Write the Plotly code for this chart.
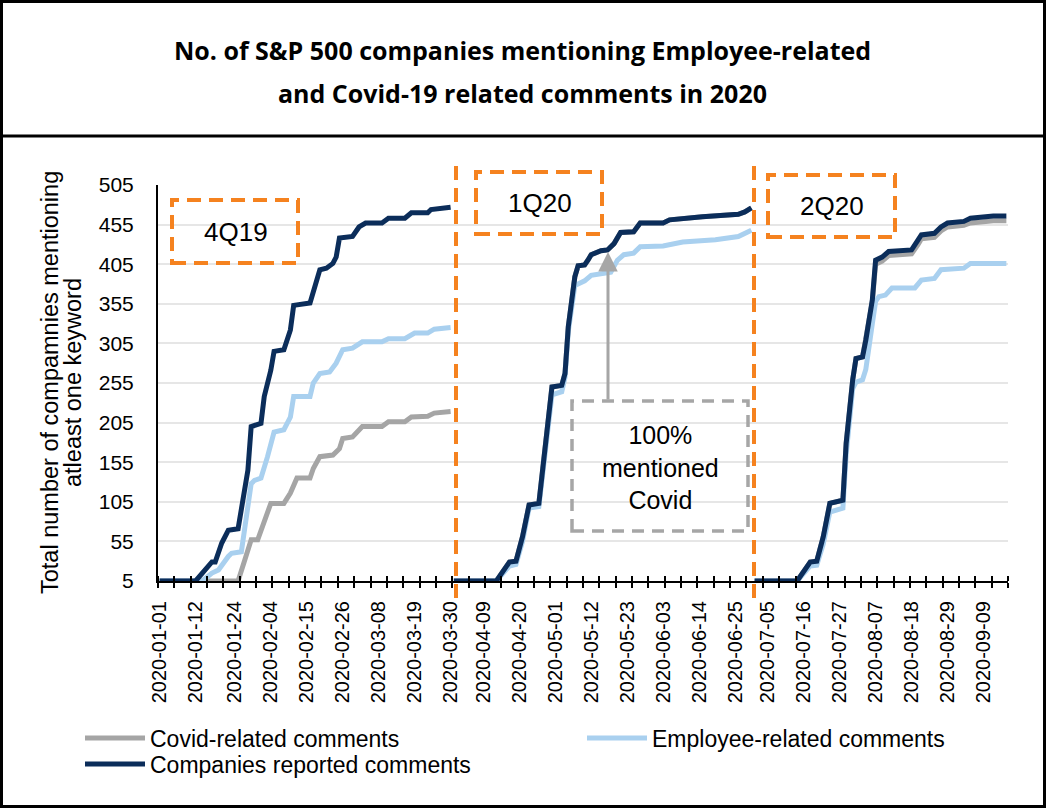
import plotly.graph_objects as go

# ---------------- data ----------------
# 4Q19 reporting season (Q1 2020)
q1_dates_companies = ["2020-01-01", "2020-01-12", "2020-01-17", "2020-01-18", "2020-01-20", "2020-01-22",
                      "2020-01-25", "2020-01-26", "2020-01-28", "2020-01-29", "2020-02-01", "2020-02-02",
                      "2020-02-04", "2020-02-05", "2020-02-08", "2020-02-10", "2020-02-11", "2020-02-16",
                      "2020-02-17", "2020-02-19", "2020-02-21", "2020-02-23", "2020-02-24", "2020-02-25",
                      "2020-02-29", "2020-03-02", "2020-03-04", "2020-03-09", "2020-03-11", "2020-03-16",
                      "2020-03-18", "2020-03-23", "2020-03-24", "2020-03-30"]
q1_companies = [5, 5, 29, 29, 53, 69, 71, 94, 145, 200, 204, 238, 271, 295, 297, 322, 353, 356,
                372, 398, 400, 406, 414, 438, 440, 452, 457, 457, 463, 463, 470, 470, 474, 477]

q1_dates_employee = ["2020-01-01", "2020-01-14", "2020-01-17", "2020-01-19", "2020-01-22", "2020-01-23",
                     "2020-01-26", "2020-01-27", "2020-01-29", "2020-01-30", "2020-02-01", "2020-02-03",
                     "2020-02-05", "2020-02-08", "2020-02-10", "2020-02-11", "2020-02-16", "2020-02-17",
                     "2020-02-19", "2020-02-22", "2020-02-24", "2020-02-26", "2020-02-29", "2020-03-03",
                     "2020-03-09", "2020-03-11", "2020-03-16", "2020-03-19", "2020-03-23", "2020-03-25",
                     "2020-03-30"]
q1_employee = [5, 5, 15, 19, 36, 40, 42, 69, 128, 132, 135, 162, 193, 196, 212, 238, 238, 255,
               267, 269, 280, 297, 299, 307, 307, 311, 311, 318, 318, 323, 325]

q1_dates_covid = ["2020-01-01", "2020-01-25", "2020-01-27", "2020-01-29", "2020-01-31", "2020-02-02",
                  "2020-02-04", "2020-02-08", "2020-02-10", "2020-02-12", "2020-02-16", "2020-02-17",
                  "2020-02-19", "2020-02-23", "2020-02-25", "2020-02-26", "2020-02-29", "2020-03-03",
                  "2020-03-09", "2020-03-11", "2020-03-16", "2020-03-18", "2020-03-23", "2020-03-25",
                  "2020-03-30"]
q1_covid = [5, 5, 31, 57, 57, 78, 103, 103, 116, 135, 135, 147, 162, 164, 172, 185, 187, 200,
            200, 206, 206, 212, 213, 217, 219]

# 1Q20 reporting season (Q2 2020)
q2_dates_companies = ["2020-03-31", "2020-04-13", "2020-04-17", "2020-04-19", "2020-04-21", "2020-04-23",
                      "2020-04-26", "2020-04-28", "2020-04-30", "2020-05-03", "2020-05-04", "2020-05-05",
                      "2020-05-07", "2020-05-08", "2020-05-10", "2020-05-11", "2020-05-12", "2020-05-15",
                      "2020-05-17", "2020-05-19", "2020-05-21", "2020-05-25", "2020-05-27", "2020-06-03",
                      "2020-06-05", "2020-06-15", "2020-06-26", "2020-06-28", "2020-06-30"]
q2_companies = [5, 5, 29, 30, 61, 101, 103, 175, 250, 252, 267, 326, 389, 403, 404, 410, 417, 422,
                423, 431, 445, 446, 457, 457, 461, 465, 468, 471, 476]

q2_dates_employee = ["2020-03-31", "2020-04-13", "2020-04-17", "2020-04-19", "2020-04-21", "2020-04-23",
                     "2020-04-26", "2020-04-28", "2020-04-30", "2020-05-03", "2020-05-04", "2020-05-05",
                     "2020-05-07", "2020-05-10", "2020-05-12", "2020-05-18", "2020-05-20", "2020-05-22",
                     "2020-05-25", "2020-05-27", "2020-06-03", "2020-06-09", "2020-06-19", "2020-06-26",
                     "2020-06-30"]
q2_employee = [5, 5, 24, 26, 55, 97, 99, 165, 240, 244, 262, 320, 378, 384, 391, 395, 410, 417,
               419, 427, 428, 433, 436, 440, 448]

# 100% of reporting companies mentioned Covid in this season
q2_dates_covid = q2_dates_companies
q2_covid = q2_companies

# 2Q20 reporting season (Q3 2020)
q3_dates_companies = ["2020-07-01", "2020-07-14", "2020-07-18", "2020-07-20", "2020-07-22", "2020-07-24",
                      "2020-07-28", "2020-07-29", "2020-07-31", "2020-08-01", "2020-08-03", "2020-08-04",
                      "2020-08-06", "2020-08-07", "2020-08-09", "2020-08-11", "2020-08-18", "2020-08-20",
                      "2020-08-21", "2020-08-25", "2020-08-27", "2020-08-29", "2020-09-03", "2020-09-05",
                      "2020-09-12", "2020-09-16"]
q3_companies = [5, 5, 29, 30, 61, 103, 107, 179, 259, 286, 288, 309, 360, 410, 414, 421, 423, 436,
                442, 444, 452, 457, 459, 463, 466, 466]

q3_dates_employee = ["2020-07-01", "2020-07-14", "2020-07-18", "2020-07-20", "2020-07-22", "2020-07-24",
                     "2020-07-28", "2020-07-29", "2020-07-31", "2020-08-01", "2020-08-03", "2020-08-04",
                     "2020-08-06", "2020-08-07", "2020-08-08", "2020-08-10", "2020-08-12", "2020-08-19",
                     "2020-08-21", "2020-08-25", "2020-08-27", "2020-09-03", "2020-09-05", "2020-09-16"]
q3_employee = [5, 5, 24, 25, 52, 92, 97, 165, 248, 256, 259, 272, 330, 358, 364, 366, 375, 375,
               385, 387, 398, 400, 406, 406]

q3_dates_covid = q3_dates_companies
q3_covid = [5, 5, 29, 30, 61, 103, 107, 179, 259, 286, 288, 309, 358, 405, 409, 416, 418, 430,
            437, 439, 447, 452, 454, 457, 460, 460]

tick_dates = ["2020-01-01", "2020-01-12", "2020-01-24", "2020-02-04", "2020-02-15", "2020-02-26",
              "2020-03-08", "2020-03-19", "2020-03-30", "2020-04-09", "2020-04-20", "2020-05-01",
              "2020-05-12", "2020-05-23", "2020-06-03", "2020-06-14", "2020-06-25", "2020-07-05",
              "2020-07-16", "2020-07-27", "2020-08-07", "2020-08-18", "2020-08-29", "2020-09-09"]

series_names = ["Covid-related comments", "Employee-related comments", "Companies reported comments"]
quarter_labels = ["4Q19", "1Q20", "2Q20"]
y_ticks = list(range(5, 506, 50))

# ---------------- layout helpers ----------------
W, H = 1046, 809
PL, PR, PT, PB = 158, 1008, 185, 581
X0, X1 = "2019-12-31 12:00", "2020-09-16 12:00"
DAY_MS = 86400000


def px_x(px):
    return (px - PL) / (PR - PL)


def px_y(py):
    return (PB - py) / (PB - PT)


def join(*parts):
    out = []
    for i, p in enumerate(parts):
        if i:
            out.append(None)
        out.extend(p)
    return out


ARIAL = "Liberation Sans, Arial, sans-serif"
C_GRAY = "#A5A5A5"
C_LIGHT = "#A9D0EF"
C_DARK = "#0B2D5A"
C_ORANGE = "#F5821F"

fig = go.Figure()
fig.add_trace(go.Scatter(
    x=join(q1_dates_covid, q2_dates_covid, q3_dates_covid),
    y=join(q1_covid, q2_covid, q3_covid),
    name=series_names[0], mode="lines", line=dict(color=C_GRAY, width=5),
    legend="legend"))
fig.add_trace(go.Scatter(
    x=join(q1_dates_employee, q2_dates_employee, q3_dates_employee),
    y=join(q1_employee, q2_employee, q3_employee),
    name=series_names[1], mode="lines", line=dict(color=C_LIGHT, width=5),
    legend="legend2"))
fig.add_trace(go.Scatter(
    x=join(q1_dates_companies, q2_dates_companies, q3_dates_companies),
    y=join(q1_companies, q2_companies, q3_companies),
    name=series_names[2], mode="lines", line=dict(color=C_DARK, width=5),
    legend="legend3"))
# empty trace so the overlay axis (inner half of the cross ticks) is drawn
fig.add_trace(go.Scatter(x=[], y=[], xaxis="x2", showlegend=False, hoverinfo="skip"))

legend_common = dict(font=dict(family=ARIAL, size=23, color="black"), bgcolor="rgba(0,0,0,0)",
                     xanchor="left", yanchor="middle", itemwidth=60)

shapes = []
# outer frame and title separator
shapes.append(dict(type="rect", xref="paper", yref="paper", x0=px_x(1.5), x1=px_x(1044.5),
                   y0=px_y(806.5), y1=px_y(1.5), line=dict(color="black", width=3)))
shapes.append(dict(type="line", xref="paper", yref="paper", x0=px_x(0), x1=px_x(1046),
                   y0=px_y(136), y1=px_y(136), line=dict(color="black", width=3)))
# orange quarter boxes
for (a, b, c, d) in [(172, 200, 298, 263), (476, 172, 602, 234), (768, 175, 895, 237)]:
    shapes.append(dict(type="rect", xref="paper", yref="paper", x0=px_x(a), x1=px_x(c),
                       y0=px_y(d), y1=px_y(b), line=dict(color=C_ORANGE, width=4, dash="14px,8px")))
# orange separators between reporting seasons
for (xx, top) in [(456, 163), (754, 160)]:
    shapes.append(dict(type="line", xref="paper", yref="paper", x0=px_x(xx), x1=px_x(xx),
                       y0=px_y(598), y1=px_y(top), line=dict(color=C_ORANGE, width=4, dash="14px,8px")))
# gray call-out box
shapes.append(dict(type="rect", xref="paper", yref="paper", x0=px_x(572), x1=px_x(748),
                   y0=px_y(531), y1=px_y(401), line=dict(color="#A6A6A6", width=3.5, dash="12px,8px")))

annotations = [
    dict(x=px_x(522), y=px_y(50), xref="paper", yref="paper", showarrow=False,
         text="<b>No. of S&amp;P 500 companies mentioning Employee-related</b>",
         font=dict(family="Open Sans", size=25, color="black"), xanchor="center", yanchor="middle"),
    dict(x=px_x(522), y=px_y(93), xref="paper", yref="paper", showarrow=False,
         text="<b>and Covid-19 related comments in 2020</b>",
         font=dict(family="Open Sans", size=25, color="black"), xanchor="center", yanchor="middle"),
    dict(x=px_x(50), y=px_y(383), xref="paper", yref="paper", showarrow=False, textangle=-90,
         text="Total number of compamnies mentioning",
         font=dict(family=ARIAL, size=23.5, color="black"), xanchor="center", yanchor="middle"),
    dict(x=px_x(73), y=px_y(383), xref="paper", yref="paper", showarrow=False, textangle=-90,
         text="atleast one keyword",
         font=dict(family=ARIAL, size=23.5, color="black"), xanchor="center", yanchor="middle"),
    dict(x=px_x(660), y=px_y(467), xref="paper", yref="paper", showarrow=False,
         text="100%<br>mentioned<br>Covid",
         font=dict(family=ARIAL, size=25, color="black"), xanchor="center", yanchor="middle"),
    dict(x=px_x(608), y=px_y(252), xref="paper", yref="paper", showarrow=True, text="",
         ax=0, ay=149, arrowhead=2, arrowsize=1.3, arrowwidth=3, arrowcolor="#A6A6A6"),
]
for lab, (cx, cy) in zip(quarter_labels, [(236, 232), (540, 203), (832, 206)]):
    annotations.append(dict(x=px_x(cx), y=px_y(cy), xref="paper", yref="paper", showarrow=False,
                            text=lab, font=dict(family=ARIAL, size=26, color="black"),
                            xanchor="center", yanchor="middle"))

minor_common = dict(tickmode="linear", tick0=X0, dtick=5 * DAY_MS, ticklen=5, tickwidth=1.5,
                    tickcolor="black", showgrid=False)

fig.update_layout(
    width=W, height=H,
    margin=dict(l=PL, r=W - PR, t=PT, b=H - PB, pad=0),
    paper_bgcolor="white", plot_bgcolor="white",
    showlegend=True,
    xaxis=dict(type="date", range=[X0, X1], tickmode="array", tickvals=tick_dates, ticktext=tick_dates,
               tickangle=-90, tickfont=dict(family=ARIAL, size=20, color="black"),
               ticks="", showgrid=False, zeroline=False, showline=True, linecolor="black", linewidth=2,
               ticklabelstandoff=10, minor=dict(ticks="outside", **minor_common)),
    xaxis2=dict(type="date", range=[X0, X1], overlaying="x", anchor="y", side="bottom",
                showticklabels=False, ticks="", showgrid=False, zeroline=False, showline=False,
                minor=dict(ticks="inside", **minor_common)),
    yaxis=dict(range=[5, 505], tickmode="array", tickvals=y_ticks, showgrid=True, gridcolor="#E6E6E6",
               gridwidth=1.5, zeroline=False, showline=True, linecolor="black", linewidth=2, ticks="",
               tickfont=dict(family=ARIAL, size=21, color="black"), ticklabelstandoff=18),
    legend=dict(x=px_x(80), y=px_y(738), **legend_common),
    legend2=dict(x=px_x(582), y=px_y(738), **legend_common),
    legend3=dict(x=px_x(80), y=px_y(764), **legend_common),
    shapes=shapes,
    annotations=annotations,
)

fig.write_html("out.html", config={"displayModeBar": False},
               post_script="document.body.style.margin='0';")
